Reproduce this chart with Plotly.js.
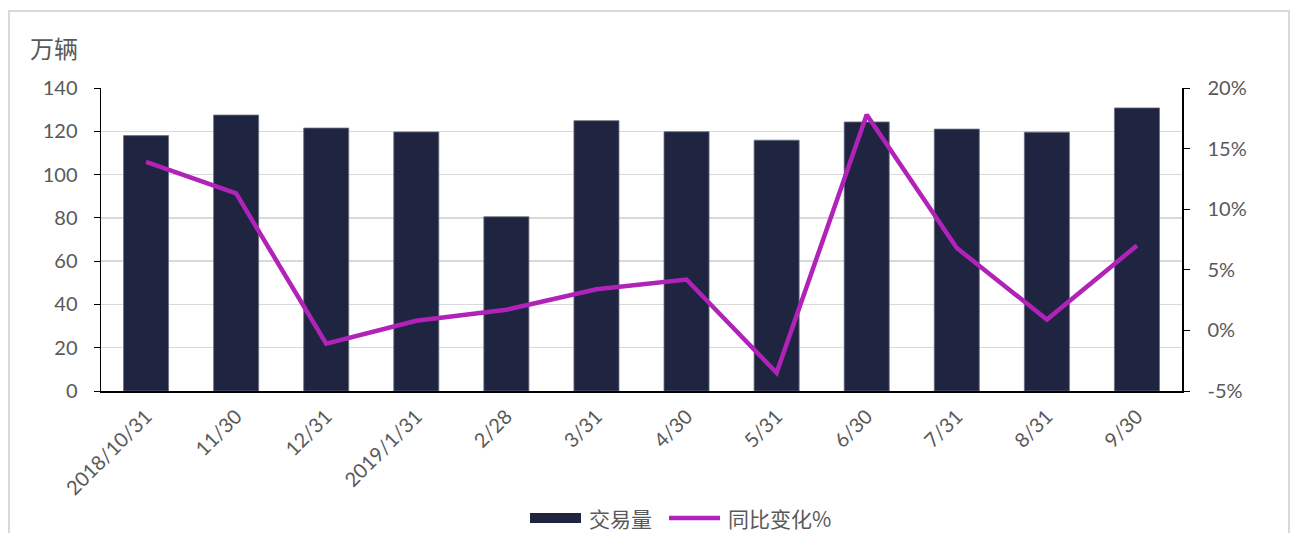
<!DOCTYPE html>
<html>
<head>
<meta charset="utf-8">
<script src="https://cdn.plot.ly/plotly-3.0.1.min.js"></script>
<style>
  html, body { margin: 0; padding: 0; background: #fff; }
  #wrap { position: relative; width: 1296px; height: 533px; overflow: hidden; }
  #frame { position: absolute; left: 8px; top: 10px; width: 1282px; height: 540px; border: 2px solid #d9d9d9; box-sizing: border-box; }
  #chart { position: absolute; left: 0; top: 0; width: 1296px; height: 533px; }
</style>
</head>
<body>
<div id="wrap">
  <div id="frame"></div>
  <div id="chart"></div>
</div>
<script>
const categories = ["2018/10/31", "11/30", "12/31", "2019/1/31", "2/28", "3/31", "4/30", "5/31", "6/30", "7/31", "8/31", "9/30"];
const volume = [118, 127.5, 121.5, 119.7, 80.5, 124.9, 119.8, 115.9, 124.3, 121, 119.6, 130.8];
const yoyPct = [13.9, 11.3, -1.1, 0.8, 1.7, 3.4, 4.2, -3.5, 17.8, 6.8, 0.9, 7.0];
const leftTicks = [0, 20, 40, 60, 80, 100, 120, 140];
const rightTicks = [-5, 0, 5, 10, 15, 20];
const rightTickText = ["-5%", "0%", "5%", "10%", "15%", "20%"];
const seriesNames = ["交易量", "同比变化%"];

const fontFam = 'Lato, "Noto Sans CJK SC", sans-serif';
const cjkFam = '"Noto Sans CJK SC", Lato, sans-serif';
const barColor = '#1f2440';
const lineColor = '#b022b8';

const traces = [
  {
    type: 'bar', name: seriesNames[0], x: categories, y: volume,
    marker: { color: barColor, line: { color: '#6b6f80', width: 0.8 } },
    yaxis: 'y'
  },
  {
    type: 'scatter', mode: 'lines', name: seriesNames[1], x: categories, y: yoyPct,
    line: { color: lineColor, width: 4.5 },
    yaxis: 'y2'
  }
];

// pixel -> paper helpers for legend/title placement
const L = 101, R = 1182, T = 88, B = 391;
const px = v => (v - L) / (R - L);
const py = v => (B - v) / (B - T);

const layout = {
  width: 1296, height: 533,
  margin: { l: L, r: 1296 - R, t: T, b: 533 - B },
  paper_bgcolor: 'rgba(0,0,0,0)', plot_bgcolor: 'rgba(0,0,0,0)',
  bargap: 0.5,
  font: { family: fontFam, color: '#595959', size: 20 },
  xaxis: {
    type: 'category', tickangle: -45, showgrid: false, automargin: false,
    showline: true, linecolor: '#000', linewidth: 2, ticks: '', ticklabelstandoff: 4,
    tickfont: { family: fontFam, size: 20, color: '#595959' }
  },
  yaxis: {
    range: [0, 140], tickvals: leftTicks, showgrid: true, gridcolor: '#d9d9d9', gridwidth: 1.5,
    showline: true, linecolor: '#000', linewidth: 1.5, ticks: 'outside', ticklen: 6, tickcolor: '#000',
    ticklabelstandoff: 12,
    tickfont: { family: fontFam, size: 20, color: '#595959' }, zeroline: false, automargin: false
  },
  yaxis2: {
    overlaying: 'y', side: 'right', range: [-5, 20], tickvals: rightTicks, ticktext: rightTickText,
    showgrid: false, zeroline: false, automargin: false,
    showline: true, linecolor: '#000', linewidth: 1.5, ticks: 'outside', ticklen: 6, tickcolor: '#000',
    ticklabelstandoff: 14,
    tickfont: { family: fontFam, size: 20, color: '#595959' }
  },
  showlegend: false,
  shapes: [
    { type: 'rect', xref: 'paper', yref: 'paper', x0: px(530), x1: px(581), y0: py(523), y1: py(513),
      fillcolor: barColor, line: { width: 0 } },
    { type: 'line', xref: 'paper', yref: 'paper', x0: px(669), x1: px(720), y0: py(518), y1: py(518),
      line: { color: lineColor, width: 4.5 } }
  ],
  annotations: [
    { text: '万辆', xref: 'paper', yref: 'paper', x: px(28), y: py(48), xanchor: 'left', yanchor: 'middle',
      showarrow: false, font: { family: cjkFam, size: 24, color: '#595959' } },
    { text: seriesNames[0], xref: 'paper', yref: 'paper', x: px(587), y: py(518), xanchor: 'left', yanchor: 'middle',
      showarrow: false, font: { family: cjkFam, size: 21, color: '#595959' } },
    { text: seriesNames[1], xref: 'paper', yref: 'paper', x: px(726), y: py(518), xanchor: 'left', yanchor: 'middle',
      showarrow: false, font: { family: cjkFam, size: 21, color: '#595959' } }
  ]
};

Plotly.newPlot('chart', traces, layout, { displayModeBar: false, staticPlot: true });
</script>
</body>
</html>
